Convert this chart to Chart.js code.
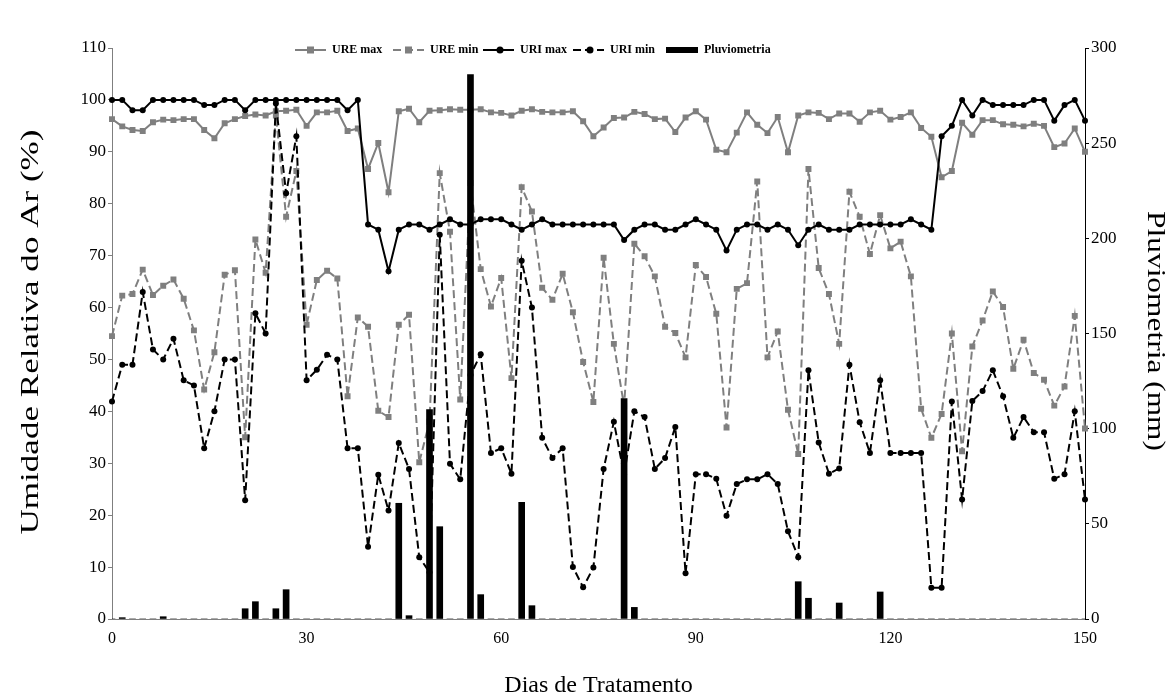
<!DOCTYPE html>
<html>
<head>
<meta charset="utf-8">
<script src="https://cdn.jsdelivr.net/npm/chart.js@4.4.0/dist/chart.umd.min.js"></script>
<style>
  html, body { margin: 0; background: #fff; }
</style>
</head>
<body>
<canvas id="chart" width="1176" height="700"></canvas>
<script>
// readings, one per measurement (96 of them, day 0 to 150)
const ureMax = [96.3, 94.9, 94.2, 94.0, 95.7, 96.2, 96.1, 96.3, 96.3, 94.2, 92.6, 95.5, 96.3, 96.9, 97.2, 97.0,
  97.8, 97.9, 98.1, 95.0, 97.6, 97.6, 97.9, 94.0, 94.5, 86.7, 91.7, 82.2, 97.8, 98.3, 95.7, 97.9,
  98.0, 98.2, 98.1, 98.1, 98.2, 97.6, 97.5, 97.0, 97.9, 98.2, 97.7, 97.6, 97.6, 97.8, 95.9, 93.0,
  94.7, 96.5, 96.6, 97.7, 97.3, 96.3, 96.4, 93.8, 96.6, 97.8, 96.2, 90.4, 89.9, 93.7, 97.6, 95.2,
  93.6, 96.7, 89.9, 97.0, 97.6, 97.5, 96.3, 97.4, 97.4, 95.8, 97.6, 97.9, 96.2, 96.7, 97.6, 94.6,
  92.9, 85.1, 86.3, 95.6, 93.3, 96.1, 96.1, 95.3, 95.2, 94.9, 95.4, 95.0, 90.9, 91.6, 94.5, 90.0];

const ureMin = [54.5, 62.3, 62.6, 67.3, 62.4, 64.2, 65.4, 61.7, 55.6, 44.2, 51.4, 66.3, 67.2, 35.0, 73.1, 66.7,
  97.0, 77.5, 86.3, 56.7, 65.3, 67.1, 65.6, 42.9, 58.1, 56.3, 40.1, 38.9, 56.7, 58.6, 30.2, 38.0,
  85.9, 74.6, 42.3, 84.0, 67.4, 60.2, 65.7, 46.4, 83.2, 78.5, 63.8, 61.5, 66.5, 59.1, 49.5, 41.8,
  69.6, 53.0, 41.0, 72.3, 69.9, 66.0, 56.3, 55.1, 50.4, 68.2, 65.9, 58.8, 36.9, 63.6, 64.7, 84.3,
  50.4, 55.4, 40.3, 31.8, 86.7, 67.6, 62.6, 53.0, 82.3, 77.5, 70.3, 77.8, 71.4, 72.7, 66.0, 40.5,
  34.9, 39.5, 55.0, 32.3, 52.5, 57.5, 63.1, 60.1, 48.2, 53.8, 47.4, 46.1, 41.1, 44.8, 58.4, 36.7];

const uriMax = [100, 100, 98, 98, 100, 100, 100, 100, 100, 99, 99, 100, 100, 98, 100, 100,
  100, 100, 100, 100, 100, 100, 100, 98, 100, 76, 75, 67, 75, 76, 76, 75,
  76, 77, 76, 76, 77, 77, 77, 76, 75, 76, 77, 76, 76, 76, 76, 76,
  76, 76, 73, 75, 76, 76, 75, 75, 76, 77, 76, 75, 71, 75, 76, 76,
  75, 76, 75, 72, 75, 76, 75, 75, 75, 76, 76, 76, 76, 76, 77, 76,
  75, 93, 95, 100, 97, 100, 99, 99, 99, 99, 100, 100, 96, 99, 100, 96];

const uriMin = [41.9, 49, 49, 63, 51.9, 50, 54, 46, 45, 32.9, 40, 50, 50, 22.9, 58.9, 55,
  99.3, 82, 93, 46, 48, 50.9, 50, 32.9, 32.9, 13.9, 27.8, 20.9, 33.9, 28.9, 11.9, 9,
  74, 29.9, 26.9, 47, 51, 32, 32.9, 28, 69, 60, 34.9, 31, 32.9, 10, 6.1, 9.9,
  28.9, 38, 27.8, 40, 38.9, 28.9, 31, 37, 8.8, 27.9, 27.9, 27, 19.9, 26, 26.9, 26.9,
  27.9, 26, 16.9, 11.9, 47.9, 34, 28, 29, 49, 37.9, 32, 46, 32, 32, 32, 32,
  6, 6, 41.9, 23, 42, 43.9, 47.9, 42.9, 34.9, 38.9, 36, 36, 27, 27.9, 40, 23];

// rain in mm
const pluviometria = [0, 0.7, 0, 0, 0, 1.2, 0, 0, 0, 0, 0, 0, 0, 5.4, 9.1, 0,
  5.4, 15.4, 0, 0, 0, 0, 0, 0, 0, 0, 0, 0, 60.8, 1.75, 0, 110,
  48.5, 0, 0, 286, 12.8, 0, 0, 0, 61.3, 7, 0, 0, 0, 0, 0, 0,
  0, 0, 115.8, 6.1, 0, 0, 0, 0, 0, 0, 0, 0, 0, 0, 0, 0,
  0, 0, 0, 19.6, 10.9, 0, 0, 8.4, 0, 0, 0, 14.2, 0, 0, 0, 0,
  0, 0, 0, 0, 0, 0, 0, 0, 0, 0, 0, 0, 0, 0, 0, 0];

const tickIdx = [0, 19, 38, 57, 76, 95];
const tickLabels = ['0', '30', '60', '90', '120', '150'];

const serif = '"Liberation Serif", "Times New Roman", serif';
const GRAY = '#7f7f7f';

const labels = ureMax.map((v, i) => i);

// vertical text stretched along its length (the original figure was stretched)
function drawVertical(ctx, text, cx, cy, len, rot, size) {
  ctx.save();
  ctx.font = size + 'px ' + serif;
  ctx.textAlign = 'center';
  ctx.textBaseline = 'middle';
  ctx.fillStyle = '#000';
  const w = ctx.measureText(text).width;
  ctx.translate(cx, cy);
  ctx.rotate(rot);
  ctx.scale(len / w, 1);
  ctx.fillText(text, 0, 0);
  ctx.restore();
}

// legend and side titles drawn by hand so they sit like the original
const extras = {
  id: 'extras',
  afterDraw(chart) {
    const ctx = chart.ctx;
    const y = 50;
    const items = [
      {x: 295, color: GRAY, dash: [], pt: 'rect', text: 'URE max'},
      {x: 393, color: GRAY, dash: [8, 4], pt: 'rect', text: 'URE min'},
      {x: 483, color: '#000', dash: [], pt: 'circle', text: 'URI max'},
      {x: 573, color: '#000', dash: [8, 4], pt: 'circle', text: 'URI min'}
    ];
    ctx.save();
    ctx.font = 'bold 12px ' + serif;
    ctx.textBaseline = 'middle';
    items.forEach(it => {
      ctx.strokeStyle = it.color;
      ctx.lineWidth = 2;
      ctx.setLineDash(it.dash);
      ctx.beginPath();
      ctx.moveTo(it.x, y);
      ctx.lineTo(it.x + 31, y);
      ctx.stroke();
      ctx.setLineDash([]);
      ctx.fillStyle = it.color;
      if (it.pt === 'rect') {
        ctx.fillRect(it.x + 12, y - 3.5, 7, 7);
      } else {
        ctx.beginPath();
        ctx.arc(it.x + 17, y, 3.5, 0, Math.PI * 2);
        ctx.fill();
      }
      ctx.fillStyle = '#000';
      ctx.fillText(it.text, it.x + 37, y);
    });
    ctx.fillStyle = '#000';
    ctx.fillRect(666, y - 3, 32, 6);
    ctx.fillText('Pluviometria', 704, y);
    ctx.restore();

    drawVertical(ctx, 'Umidade Relativa do Ar (%)', 31, 332, 405, -Math.PI / 2, 25);
    drawVertical(ctx, 'Pluviometria (mm)', 1155, 331, 240, Math.PI / 2, 25);
  }
};

new Chart(document.getElementById('chart'), {
  data: {
    labels: labels,
    datasets: [
      {
        type: 'bar',
        label: 'Pluviometria',
        data: pluviometria,
        yAxisID: 'y1',
        backgroundColor: '#000',
        barThickness: 6,
        order: 0
      },
      {
        type: 'line',
        label: 'URI min',
        data: uriMin,
        yAxisID: 'y',
        borderColor: '#000',
        backgroundColor: '#000',
        borderWidth: 2,
        borderDash: [8, 4],
        pointStyle: 'circle',
        pointRadius: 3,
        pointBorderWidth: 0,
        tension: 0,
        order: 1
      },
      {
        type: 'line',
        label: 'URI max',
        data: uriMax,
        yAxisID: 'y',
        borderColor: '#000',
        backgroundColor: '#000',
        borderWidth: 2,
        pointStyle: 'circle',
        pointRadius: 3,
        pointBorderWidth: 0,
        tension: 0,
        order: 2
      },
      {
        type: 'line',
        label: 'URE min',
        data: ureMin,
        yAxisID: 'y',
        borderColor: GRAY,
        backgroundColor: GRAY,
        borderWidth: 2,
        borderDash: [8, 4],
        pointStyle: 'rect',
        pointRadius: 4.2,
        pointBorderWidth: 0,
        tension: 0,
        order: 3
      },
      {
        type: 'line',
        label: 'URE max',
        data: ureMax,
        yAxisID: 'y',
        borderColor: GRAY,
        backgroundColor: GRAY,
        borderWidth: 2,
        pointStyle: 'rect',
        pointRadius: 4.2,
        pointBorderWidth: 0,
        tension: 0,
        order: 4
      }
    ]
  },
  options: {
    responsive: false,
    animation: false,
    layout: { padding: { top: 48, left: 0, right: 0, bottom: 0 } },
    plugins: {
      legend: { display: false },
      tooltip: { enabled: false }
    },
    scales: {
      x: {
        type: 'category',
        offset: false,
        grid: { display: false },
        border: { display: true, color: GRAY, width: 1 },
        afterBuildTicks: s => { s.ticks = tickIdx.map(v => ({ value: v })); },
        afterFit: s => { s.height = 81; },
        ticks: {
          autoSkip: false,
          maxRotation: 0,
          padding: 2,
          color: '#000',
          font: { family: serif, size: 16 },
          callback: v => tickLabels[tickIdx.indexOf(v)]
        },
        title: {
          display: true,
          text: 'Dias de Tratamento',
          color: '#000',
          font: { family: serif, size: 24 },
          padding: { top: 0, bottom: 0 }
        }
      },
      y: {
        position: 'left',
        min: 0,
        max: 110,
        afterFit: s => { s.width = 112; },
        grid: { drawOnChartArea: false, color: GRAY, tickLength: 4 },
        border: { color: GRAY, width: 1 },
        ticks: {
          stepSize: 10,
          padding: 2,
          color: '#000',
          font: { family: serif, size: 17 }
        }
      },
      y1: {
        position: 'right',
        min: 0,
        max: 300,
        afterFit: s => { s.width = 91; },
        grid: { drawOnChartArea: false, color: '#000', tickLength: 4 },
        border: { color: '#000', width: 1 },
        ticks: {
          stepSize: 50,
          padding: 2,
          color: '#000',
          font: { family: serif, size: 17 }
        }
      }
    }
  },
  plugins: [extras]
});
</script>
</body>
</html>
